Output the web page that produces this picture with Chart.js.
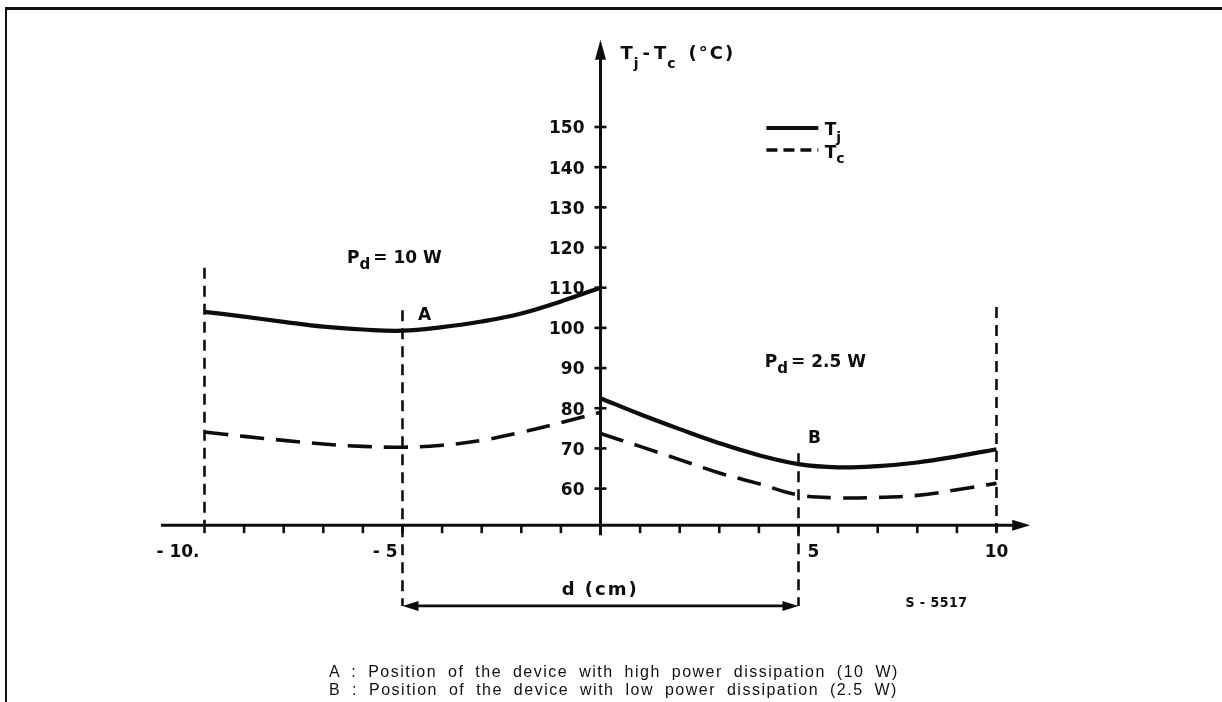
<!DOCTYPE html>
<html>
<head>
<meta charset="utf-8">
<script src="https://cdn.jsdelivr.net/npm/chart.js@4.4.1/dist/chart.umd.min.js"></script>
<style>
  html, body { margin:0; padding:0; background:#fff; width:1222px; height:702px; overflow:hidden; }
  #frame { position:absolute; left:5px; top:7px; width:1260px; height:760px; border-left:2px solid #111; border-top:3px solid #111; }
  #wrap { position:absolute; left:0; top:0; width:1222px; height:702px; }
  #cap { position:absolute; left:329px; top:663px; font:16px "Liberation Sans", Arial, sans-serif; color:#111;
         line-height:18px; letter-spacing:1.5px; word-spacing:5px; white-space:nowrap; }
</style>
</head>
<body>
<div id="frame"></div>
<div id="wrap"><canvas id="c" width="1222" height="702"></canvas></div>
<div id="cap">A : Position of the device with high power dissipation (10 W)<br>B : Position of the device with low power dissipation (2.5 W)</div>
<script>
// ---------- data ----------
const dLeft  = [-10, -9, -8, -7, -6, -5, -4, -3, -2, -1, 0];
const tjHigh = [104.0, 102.8, 101.5, 100.3, 99.6, 99.3, 100.2, 101.6, 103.6, 106.6, 110.0];
const tcHigh = [74.1, 73.0, 72.0, 71.1, 70.5, 70.3, 70.8, 72.0, 74.0, 76.4, 79.0];
const dRight = [0, 1, 2, 3, 4, 5, 6, 7, 8, 9, 10];
const tjLow  = [82.5, 78.5, 74.8, 71.3, 68.3, 66.1, 65.3, 65.6, 66.5, 68.0, 69.8];
const tcLow  = [73.7, 70.5, 67.2, 63.9, 61.2, 58.4, 57.7, 57.8, 58.3, 59.7, 61.3];

const xTickValues = [-10, -5, 5, 10];
const xTickLabels = ['- 10.', '- 5', '5', '10'];
const xMinorTicks = [-10, -9, -8, -7, -6, -5, -4, -3, -2, -1, 1, 2, 3, 4, 5, 6, 7, 8, 9, 10];
const yTickValues = [60, 70, 80, 90, 100, 110, 120, 130, 140, 150];
const yTickLabels = ['60', '70', '80', '90', '100', '110', '120', '130', '140', '150'];

// marker lines (x position, top value, bottom value)
const markerX      = [-10, -5, 5, 10];
const markerTop    = [115, 104.4, 68.8, 105.2];
const markerBottom = [50.9, 30.8, 30.8, 49.5];

// ---------- layout constants ----------
const X_AXIS_AT = 50.9;     // y-value where the d axis sits
const X_AXIS_START = -11.1, X_AXIS_END = 10.85;
const Y_AXIS_END = 171.7, Y_AXIS_START = 48.4;
const DIM_Y = 30.8;
const INK = '#0d0d0d';
const F = (w, s, fam) => `${w} ${s}px ${fam || '"DejaVu Sans"'}`;

const toXY = (xs, ys) => xs.map((v, i) => ({x: v, y: ys[i]}));

const datasets = [
  {data: toXY(dLeft, tjHigh), borderWidth: 4.2},
  {data: toXY(dLeft, tcHigh), borderWidth: 3.6, borderDash: [24, 12]},
  {data: toXY(dRight, tjLow), borderWidth: 4.2},
  {data: toXY(dRight, tcLow), borderWidth: 3.6, borderDash: [24, 12]},
].map(d => Object.assign({borderColor: INK, pointRadius: 0, tension: 0.4, fill: false}, d));

markerX.forEach((mx, i) => {
  datasets.push({data: [{x: mx, y: markerTop[i]}, {x: mx, y: markerBottom[i]}],
    borderColor: INK, borderWidth: 2.6, borderDash: [11, 7], pointRadius: 0, tension: 0, fill: false});
});

function arrowHead(ctx, tx, ty, dir, len, half) {
  ctx.beginPath();
  if (dir === 'up')    { ctx.moveTo(tx, ty); ctx.lineTo(tx - half, ty + len); ctx.lineTo(tx + half, ty + len); }
  if (dir === 'right') { ctx.moveTo(tx, ty); ctx.lineTo(tx - len, ty - half); ctx.lineTo(tx - len, ty + half); }
  if (dir === 'left')  { ctx.moveTo(tx, ty); ctx.lineTo(tx + len, ty - half); ctx.lineTo(tx + len, ty + half); }
  ctx.closePath(); ctx.fill();
}
function seg(ctx, x1, y1, x2, y2) { ctx.beginPath(); ctx.moveTo(x1, y1); ctx.lineTo(x2, y2); ctx.stroke(); }
function subText(ctx, x, y, parts) {
  // parts: [text, font, dy, extraAfter]
  let cx = x;
  parts.forEach(p => { ctx.font = p[1]; ctx.fillText(p[0], cx, y + (p[2] || 0)); cx += ctx.measureText(p[0]).width + (p[3] || 0); });
  return cx;
}

const deco = {
  id: 'deco',
  afterDatasetsDraw(chart) {
    const {ctx, scales: {x, y}} = chart;
    const X = v => x.getPixelForValue(v), Y = v => y.getPixelForValue(v);
    ctx.save();
    ctx.strokeStyle = INK; ctx.fillStyle = INK; ctx.lineCap = 'butt';
    const ax = X(0), ay = Y(X_AXIS_AT);

    // horizontal axis
    ctx.lineWidth = 3;
    seg(ctx, X(X_AXIS_START), ay, X(X_AXIS_END) - 12, ay);
    arrowHead(ctx, X(X_AXIS_END), ay, 'right', 18, 5.5);
    ctx.lineWidth = 2.6;
    xMinorTicks.forEach(v => seg(ctx, X(v), ay, X(v), ay + 8));

    // vertical axis
    ctx.lineWidth = 3;
    seg(ctx, ax, Y(Y_AXIS_START), ax, Y(Y_AXIS_END) + 12);
    arrowHead(ctx, ax, Y(Y_AXIS_END), 'up', 20, 5.5);
    ctx.lineWidth = 2.6;
    yTickValues.forEach(v => seg(ctx, ax - 6, Y(v), ax + 6, Y(v)));

    // y tick labels
    ctx.font = F('bold', 17); ctx.textAlign = 'right'; ctx.textBaseline = 'middle';
    yTickValues.forEach((v, i) => ctx.fillText(yTickLabels[i], ax - 16, Y(v) + 2));

    // x tick labels
    ctx.textBaseline = 'alphabetic';
    xTickValues.forEach((v, i) => {
      let align = 'center', dx = 0;
      if (v < 0) { align = 'right'; dx = -5; } else if (v < 10) { align = 'left'; dx = 9; }
      ctx.textAlign = align;
      ctx.fillText(xTickLabels[i], X(v) + dx, ay + 32);
    });

    // axis titles
    ctx.textAlign = 'left';
    const B = F('bold', 18), S = F('bold', 14);
    subText(ctx, ax + 20, Y(167.05), [['T', B, 0, 1], ['j', S, 9, 4], ['-', B, 0, 4], ['T', B, 0, 1], ['c', S, 9, 9]]);
    ctx.letterSpacing = '2px';
    ctx.font = B; ctx.fillText('(°C)', ax + 88, Y(167.05));
    ctx.fillText('d (cm)', X(-0.98), Y(33.5));
    ctx.letterSpacing = '0.5px';
    ctx.font = F('bold', 14, '"DejaVu Sans Condensed", "DejaVu Sans"');
    ctx.fillText('S - 5517', X(7.7), Y(30.5));
    ctx.letterSpacing = '0px';

    // annotations
    const P = F('bold', 17), Ps = F('bold', 15);
    subText(ctx, X(-6.4), Y(116.1), [['P', P, 0, 0], ['d', Ps, 6, 3], ['= 10 W', P, 0, 0]]);
    subText(ctx, X(4.15), Y(90.3), [['P', P, 0, 0], ['d', Ps, 6, 3], ['= 2.5 W', P, 0, 0]]);
    ctx.font = P;
    ctx.fillText('A', X(-4.61), Y(102));
    ctx.fillText('B', X(5.24), Y(71.3));

    // legend
    ctx.lineWidth = 4;
    seg(ctx, X(4.19), Y(149.75), X(5.5), Y(149.75));
    ctx.lineWidth = 3.6; ctx.setLineDash([11, 6]);
    seg(ctx, X(4.19), Y(144.3), X(5.5), Y(144.3));
    ctx.setLineDash([]);
    const L = F('bold', 17), Ls = F('bold', 14);
    subText(ctx, X(5.66), Y(148.0), [['T', L, 0, 0], ['j', Ls, 7, 0]]);
    subText(ctx, X(5.66), Y(142.3), [['T', L, 0, 0], ['c', Ls, 5, 0]]);

    // dimension arrow
    ctx.lineWidth = 2.6;
    seg(ctx, X(-5) + 10, Y(DIM_Y), X(5) - 10, Y(DIM_Y));
    arrowHead(ctx, X(-5), Y(DIM_Y), 'left', 16, 5);
    arrowHead(ctx, X(5), Y(DIM_Y), 'right', 16, 5);
    ctx.restore();
  }
};

new Chart(document.getElementById('c'), {
  type: 'line',
  data: {datasets},
  options: {
    responsive: false, animation: false, devicePixelRatio: 1,
    layout: {padding: {left: 145.1, right: 166.1, top: 26.6, bottom: 92.9}},
    scales: {
      x: {type: 'linear', min: -11.5, max: 11.5, display: false},
      y: {type: 'linear', min: 30, max: 175, display: false}
    },
    plugins: {legend: {display: false}, tooltip: {enabled: false}},
    elements: {line: {capBezierPoints: true}}
  },
  plugins: [deco]
});
</script>
</body>
</html>
